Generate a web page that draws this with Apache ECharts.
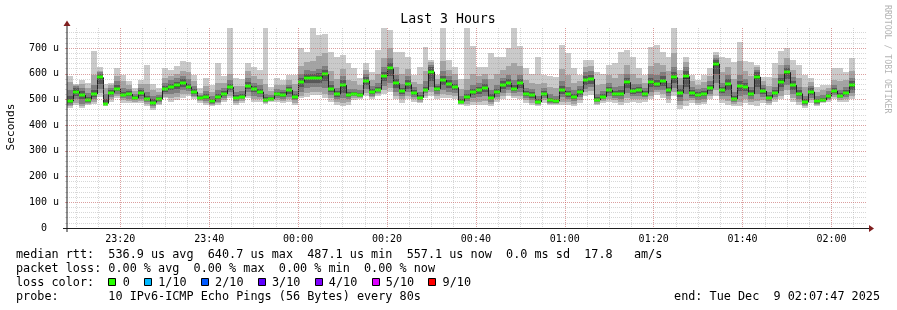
<!DOCTYPE html>
<html><head><meta charset="utf-8">
<script src="https://cdn.jsdelivr.net/npm/echarts@6/dist/echarts.min.js"></script>
<style>html,body{margin:0;padding:0;background:#fff}#c{width:897px;height:310px}</style>
</head><body><div id="c"></div>
<script>
const chartTitle = 'Last 3 Hours';
const yAxisTitle = 'Seconds';
const watermark = 'RRDTOOL / TOBI OETIKER';
const stepSeconds = 80;
const firstColumnMinute = 8;            // 23:08:00, minutes after 23:00
const axisMinMinute = 8, axisMaxMinute = 188;
const yMax = 778;

// median RTT per 80 s step (microseconds)
const medianUs = [
 493,530,517,497,521,586,484,527,541,517,521,505,524,503,488,500,540,550,555,563,
 548,530,506,509,493,509,521,548,507,511,553,540,530,498,502,520,517,537,510,569,
 585,582,585,598,541,520,556,517,521,517,572,528,537,591,621,563,533,560,525,507,
 537,608,541,575,559,547,492,511,530,536,546,507,529,556,563,541,563,520,516,490,
 523,497,493,536,520,511,528,576,580,498,510,537,520,521,567,532,535,523,567,559,
 572,535,586,525,590,525,517,520,543,639,535,559,502,553,549,521,588,533,507,524,
 569,606,556,523,489,530,494,497,512,533,515,525,555
];
// sorted ping RTTs per step (ping1 = fastest ... ping10 = slowest), microseconds
const ping1 = [468,477,466,479,482,511,474,491,504,488,486,488,486,476,459,479,504,491,498,505,514,501,488,479,474,478,491,504,479,488,504,492,492,482,491,491,488,492,479,504,511,517,517,504,492,479,474,479,498,501,514,501,514,522,530,501,488,501,492,486,505,514,501,505,505,501,479,474,479,479,479,474,492,501,514,505,501,488,479,474,488,477,479,479,479,474,488,514,517,479,488,492,488,479,488,491,488,492,501,517,505,488,514,463,474,488,479,482,501,514,488,479,474,474,488,479,474,488,479,492,501,517,492,479,468,488,474,488,492,501,492,492,501];
const ping2 = [474,488,474,484,490,525,477,500,512,496,494,492,494,482,466,484,510,505,510,520,522,508,494,486,478,485,498,515,487,495,515,503,500,486,494,498,495,500,487,515,525,530,530,520,505,490,488,490,505,506,525,508,520,535,545,515,500,515,500,492,515,530,512,520,518,512,483,484,490,492,495,482,500,512,525,515,515,496,488,478,497,481,482,492,490,484,497,528,532,484,494,502,497,490,505,500,500,500,515,528,520,500,528,478,495,497,488,492,512,535,500,495,482,492,502,490,495,499,486,500,515,535,505,490,473,497,478,490,497,510,499,500,512];
const ping3 = [480,500,484,488,500,540,480,510,522,505,502,497,503,490,474,489,520,520,525,535,532,515,499,494,483,492,506,528,495,501,528,515,510,490,497,506,503,510,496,530,545,548,548,545,518,500,505,500,512,511,540,515,526,552,565,530,512,528,508,498,525,548,522,538,530,525,486,494,505,508,512,492,510,526,537,525,530,505,498,482,506,486,485,508,500,494,508,542,548,489,500,514,506,502,525,512,512,508,530,538,535,512,545,495,520,507,498,502,522,565,512,515,490,512,518,502,520,510,494,510,532,555,520,502,478,507,483,492,502,518,506,508,525];
const ping4 = [486,512,500,492,510,560,482,518,532,512,512,501,512,496,480,494,530,535,540,550,540,522,503,502,488,500,513,538,501,506,540,528,520,494,499,512,510,522,503,548,565,565,565,570,530,510,525,508,517,514,555,522,532,572,590,545,522,542,516,503,532,570,532,555,545,537,489,503,518,522,530,500,520,540,550,533,545,512,507,486,514,491,488,522,510,502,518,558,562,493,505,525,513,512,545,522,524,515,548,548,552,524,565,510,550,515,508,512,532,600,524,535,496,532,534,512,550,521,500,517,550,580,538,513,483,517,488,494,507,526,511,516,538];
const ping5 = [490,524,512,495,518,580,484,524,538,515,518,504,520,500,485,498,536,546,550,560,546,527,505,507,491,506,518,545,505,509,550,536,527,496,501,517,515,533,508,563,580,578,580,592,538,517,550,514,520,516,568,526,535,587,615,558,530,555,522,506,535,600,538,570,555,544,491,509,527,532,542,505,526,552,560,538,558,518,513,489,520,495,491,532,517,508,525,570,575,496,508,533,518,518,560,529,532,520,562,555,567,532,580,520,580,522,514,517,539,630,531,552,500,548,545,518,580,529,505,522,564,600,551,520,487,526,492,496,510,531,514,522,550];
const ping6 = [496,536,522,500,524,590,486,530,545,520,524,507,527,506,492,502,544,553,558,567,552,533,508,512,495,512,524,551,509,513,556,543,533,500,504,523,520,540,512,573,590,586,590,604,545,523,562,520,523,519,576,531,540,595,627,567,536,564,528,509,540,615,544,580,563,550,494,514,533,540,550,510,532,560,566,544,567,523,519,492,526,499,495,540,523,514,531,580,585,500,512,540,523,524,572,535,538,526,571,563,577,538,592,530,598,528,520,523,547,645,539,565,505,558,553,524,595,537,510,527,574,612,561,526,491,534,496,499,514,535,517,528,560];
const ping7 = [512,545,532,510,535,598,500,538,555,530,532,514,535,515,500,508,552,562,568,578,562,540,513,520,502,520,532,560,517,520,566,552,542,508,510,530,528,548,520,585,600,598,602,615,555,532,575,528,530,525,588,540,550,607,640,578,545,575,536,516,550,625,552,592,575,560,500,522,542,550,562,520,542,570,578,555,578,532,528,500,534,507,503,552,532,522,540,592,597,508,520,550,532,535,585,545,548,534,582,575,590,548,605,542,610,536,528,532,556,652,550,578,515,572,565,535,605,546,518,536,585,622,572,535,500,543,503,506,522,543,525,537,570];
const ping8 = [535,552,545,525,555,605,520,545,570,545,542,522,545,530,512,516,565,575,582,592,578,552,519,532,512,535,545,575,530,532,582,565,555,520,518,540,538,558,533,600,615,612,620,630,570,545,590,540,540,535,600,552,565,625,660,595,560,590,548,528,570,635,562,610,590,575,512,535,558,565,578,535,558,585,595,575,595,545,540,515,545,520,515,570,550,535,552,605,610,520,532,565,548,552,600,560,560,545,598,595,605,565,625,558,625,548,540,545,570,660,565,595,530,595,580,550,615,558,530,550,600,635,588,550,515,553,514,518,532,555,538,550,585];
const ping9 = [568,557,560,545,595,612,545,555,590,570,556,534,560,560,535,528,585,592,600,612,605,570,527,552,530,565,565,600,552,552,610,590,578,560,532,558,555,575,560,630,645,650,670,680,610,580,620,575,570,555,615,575,600,660,700,625,600,620,568,560,610,645,578,650,615,598,540,580,600,590,600,580,600,615,630,640,630,575,565,560,565,548,545,620,595,565,572,625,630,555,560,595,585,600,635,600,585,565,630,640,635,610,680,585,645,570,556,568,592,672,605,625,580,650,612,590,625,572,552,585,635,660,615,585,550,566,530,535,545,575,570,575,610];
const ping10 = [590,562,575,563,687,627,562,563,624,595,572,546,577,634,562,543,621,614,631,651,647,595,543,582,556,640,592,778,582,580,643,626,614,778,548,582,575,595,595,699,686,778,751,755,686,667,673,640,621,582,640,608,693,778,770,686,686,667,595,627,706,653,595,778,653,627,580,778,708,625,627,682,667,667,699,778,708,621,601,667,595,590,588,712,680,621,595,653,653,608,601,634,640,686,693,667,621,595,704,712,686,664,778,614,667,595,575,595,621,684,667,660,647,725,651,647,634,588,588,640,690,699,653,634,595,582,550,556,556,621,621,608,660];

const yTickValues = [0,100,200,300,400,500,600,700];
const yTickLabels = ['0  ','100 u','200 u','300 u','400 u','500 u','600 u','700 u'];
const yMinorValues = [];
for (let v = 0; v <= 760; v += 20) yMinorValues.push(v);
const xTickValues = [20,40,60,80,100,120,140,160,180];
const xTickLabels = ['23:20','23:40','00:00','00:20','00:40','01:00','01:20','01:40','02:00'];
const xMinorValues = [];
for (let v = 10; v <= 185; v += 5) xMinorValues.push(v);

const legendLines = [
  'median rtt:  536.9 us avg  640.7 us max  487.1 us min  557.1 us now  0.0 ms sd  17.8   am/s',
  'packet loss: 0.00 % avg  0.00 % max  0.00 % min  0.00 % now',
  'loss color:',
  'probe:       10 IPv6-ICMP Echo Pings (56 Bytes) every 80s'
];
const lossLabels = ['0','1/10','2/10','3/10','4/10','5/10','9/10'];
const lossColors = ['#26ff00','#00b8ff','#0059ff','#5e00ff','#7e00ff','#dd00ff','#ff0000'];
const endText = 'end: Tue Dec  9 02:07:47 2025';

// ---------- layout ----------
const G = {left:67, top:28, width:800, height:200};
const MONO = 'DejaVu Sans Mono';
const gridColor = 'rgba(150,150,150,0.38)';
const mgridColor = 'rgba(225,80,80,0.42)';
const smokeShades = ['#cacaca','#a4a4a4','#7e7e7e','#585858','#323232'];

const colMin = k => firstColumnMinute + k * stepSeconds / 60;
const pings = [ping1,ping2,ping3,ping4,ping5,ping6,ping7,ping8,ping9,ping10];
const smokeData = medianUs.map((m,k)=>[colMin(k), colMin(k+1)].concat(pings.map(p=>p[k])));
const medData = medianUs.map((m,k)=>[colMin(k), colMin(k+1), m, k>0?medianUs[k-1]:m]);

function renderSmoke(params, api){
  const x0 = Math.round(api.coord([api.value(0),0])[0]);
  const x1 = Math.round(api.coord([api.value(1),0])[0]);
  const children = [];
  for (let i=0;i<5;i++){
    const lo = api.value(2+i), hi = api.value(11-i);
    const yT = Math.round(api.coord([0,hi])[1]);
    const yB = Math.round(api.coord([0,lo])[1]);
    children.push({type:'rect', shape:{x:x0,y:yT,width:x1-x0,height:Math.max(1,yB-yT)}, style:{fill:smokeShades[i]}});
  }
  return {type:'group', children};
}
function renderMedian(params, api){
  const x0 = Math.round(api.coord([api.value(0),0])[0]);
  const x1 = Math.round(api.coord([api.value(1),0])[0]);
  const ym = api.coord([0,api.value(2)])[1];
  const yp = api.coord([0,api.value(3)])[1];
  return {type:'group', children:[
    {type:'line', shape:{x1:x0+0.5,y1:yp,x2:x0+0.5,y2:ym}, style:{stroke:'#202020',lineWidth:1}},
    {type:'line', shape:{x1:x0,y1:ym,x2:x1,y2:ym}, style:{stroke:'#202020',lineWidth:1}},
    {type:'rect', shape:{x:x0,y:Math.round(ym)-1.5,width:x1-x0,height:3}, style:{fill:lossColors[0]}}
  ]};
}

const adv = 7.11, LF = 11.8;
const graphics = [];
graphics.push({type:'text', x:448, y:20, style:{text:chartTitle, font:`13.2px "${MONO}"`, fill:'#000', align:'center', verticalAlign:'middle'}});
graphics.push({type:'text', x:11, y:127, rotation:Math.PI/2, style:{text:yAxisTitle, font:`11.2px "${MONO}"`, fill:'#000', align:'center', verticalAlign:'middle'}});
graphics.push({type:'text', x:887, y:5, rotation:-Math.PI/2, style:{text:watermark, font:`8.2px "${MONO}"`, fill:'#b4b4b4', align:'left', verticalAlign:'middle'}});
const baseY = [254.6, 268.6, 282.6, 296.6];
legendLines.forEach((t,i)=>graphics.push({type:'text', x:16, y:baseY[i], style:{text:t, font:`${LF}px "${MONO}"`, fill:'#000', align:'left', verticalAlign:'middle'}}));
let bx = 16 + 13*adv;
lossLabels.forEach((lab,i)=>{
  graphics.push({type:'rect', shape:{x:Math.round(bx)+0.5, y:278.5, width:7, height:7}, style:{fill:lossColors[i], stroke:'#000', lineWidth:1}});
  const lx = bx + 2*adv;
  graphics.push({type:'text', x:lx, y:baseY[2], style:{text:lab, font:`${LF}px "${MONO}"`, fill:'#000', align:'left', verticalAlign:'middle'}});
  bx = lx + (lab.length+2)*adv;
});
graphics.push({type:'text', x:880, y:baseY[3], style:{text:endText, font:`${LF}px "${MONO}"`, fill:'#000', align:'right', verticalAlign:'middle'}});
// axes lines and arrows (rrdtool style)
const xo = G.left, yo = G.top + G.height, xs = G.width, ys = G.height;
graphics.push({type:'line', z:50, shape:{x1:xo-4, y1:yo+0.5, x2:xo+xs+4, y2:yo+0.5}, style:{stroke:'#1f1f1f', lineWidth:1}});
graphics.push({type:'line', z:50, shape:{x1:xo, y1:yo+4, x2:xo, y2:yo-ys-4}, style:{stroke:'#1f1f1f', lineWidth:1}});
graphics.push({type:'polygon', z:51, shape:{points:[[xo+xs+2,yo-3],[xo+xs+2,yo+4],[xo+xs+7,yo+0.5]]}, style:{fill:'#801f1f'}});
graphics.push({type:'polygon', z:51, shape:{points:[[xo-3.5,yo-ys-2],[xo+3.5,yo-ys-2],[xo,yo-ys-7.5]]}, style:{fill:'#801f1f'}});

const chart = echarts.init(document.getElementById('c'), null, {renderer:'canvas'});
chart.setOption({
  animation:false,
  backgroundColor:'#ffffff',
  grid:{left:G.left, top:G.top, width:G.width, height:G.height, outerBoundsMode:'none', containLabel:false},
  xAxis:[
    {type:'value', position:'bottom', min:axisMinMinute, max:axisMaxMinute, z:9,
     axisLine:{show:false}, axisTick:{show:false, customValues:xMinorValues}, axisLabel:{show:false},
     splitLine:{show:true, lineStyle:{color:gridColor, width:1, type:[1,1]}}},
    {type:'value', position:'bottom', offset:0, min:axisMinMinute, max:axisMaxMinute, z:10,
     axisLine:{show:false}, axisTick:{show:false, customValues:xTickValues},
     axisLabel:{show:true, customValues:xTickValues, margin:6, color:'#000', fontFamily:MONO, fontSize:10,
       formatter:v=>xTickLabels[xTickValues.indexOf(v)]},
     splitLine:{show:true, lineStyle:{color:mgridColor, width:1, type:[1,1]}}}
  ],
  yAxis:[
    {type:'value', position:'left', min:0, max:yMax, z:9,
     axisLine:{show:false}, axisTick:{show:true, length:2, customValues:yMinorValues, lineStyle:{color:gridColor}}, axisLabel:{show:false},
     splitLine:{show:true, lineStyle:{color:gridColor, width:1, type:[1,1]}}},
    {type:'value', position:'left', offset:0, min:0, max:yMax, z:10,
     axisLine:{show:false}, axisTick:{show:true, length:2, customValues:yTickValues, lineStyle:{color:mgridColor}},
     axisLabel:{show:true, customValues:yTickValues, margin:8, color:'#000', fontFamily:MONO, fontSize:10,
       formatter:v=>yTickLabels[yTickValues.indexOf(v)]},
     splitLine:{show:true, lineStyle:{color:mgridColor, width:1, type:[1,1]}}}
  ],
  series:[
    {type:'custom', xAxisIndex:1, yAxisIndex:1, renderItem:renderSmoke, data:smokeData, z:4, silent:true, clip:true},
    {type:'custom', xAxisIndex:1, yAxisIndex:1, renderItem:renderMedian, data:medData, z:5, silent:true, clip:true}
  ],
  graphic:graphics
});
</script></body></html>
